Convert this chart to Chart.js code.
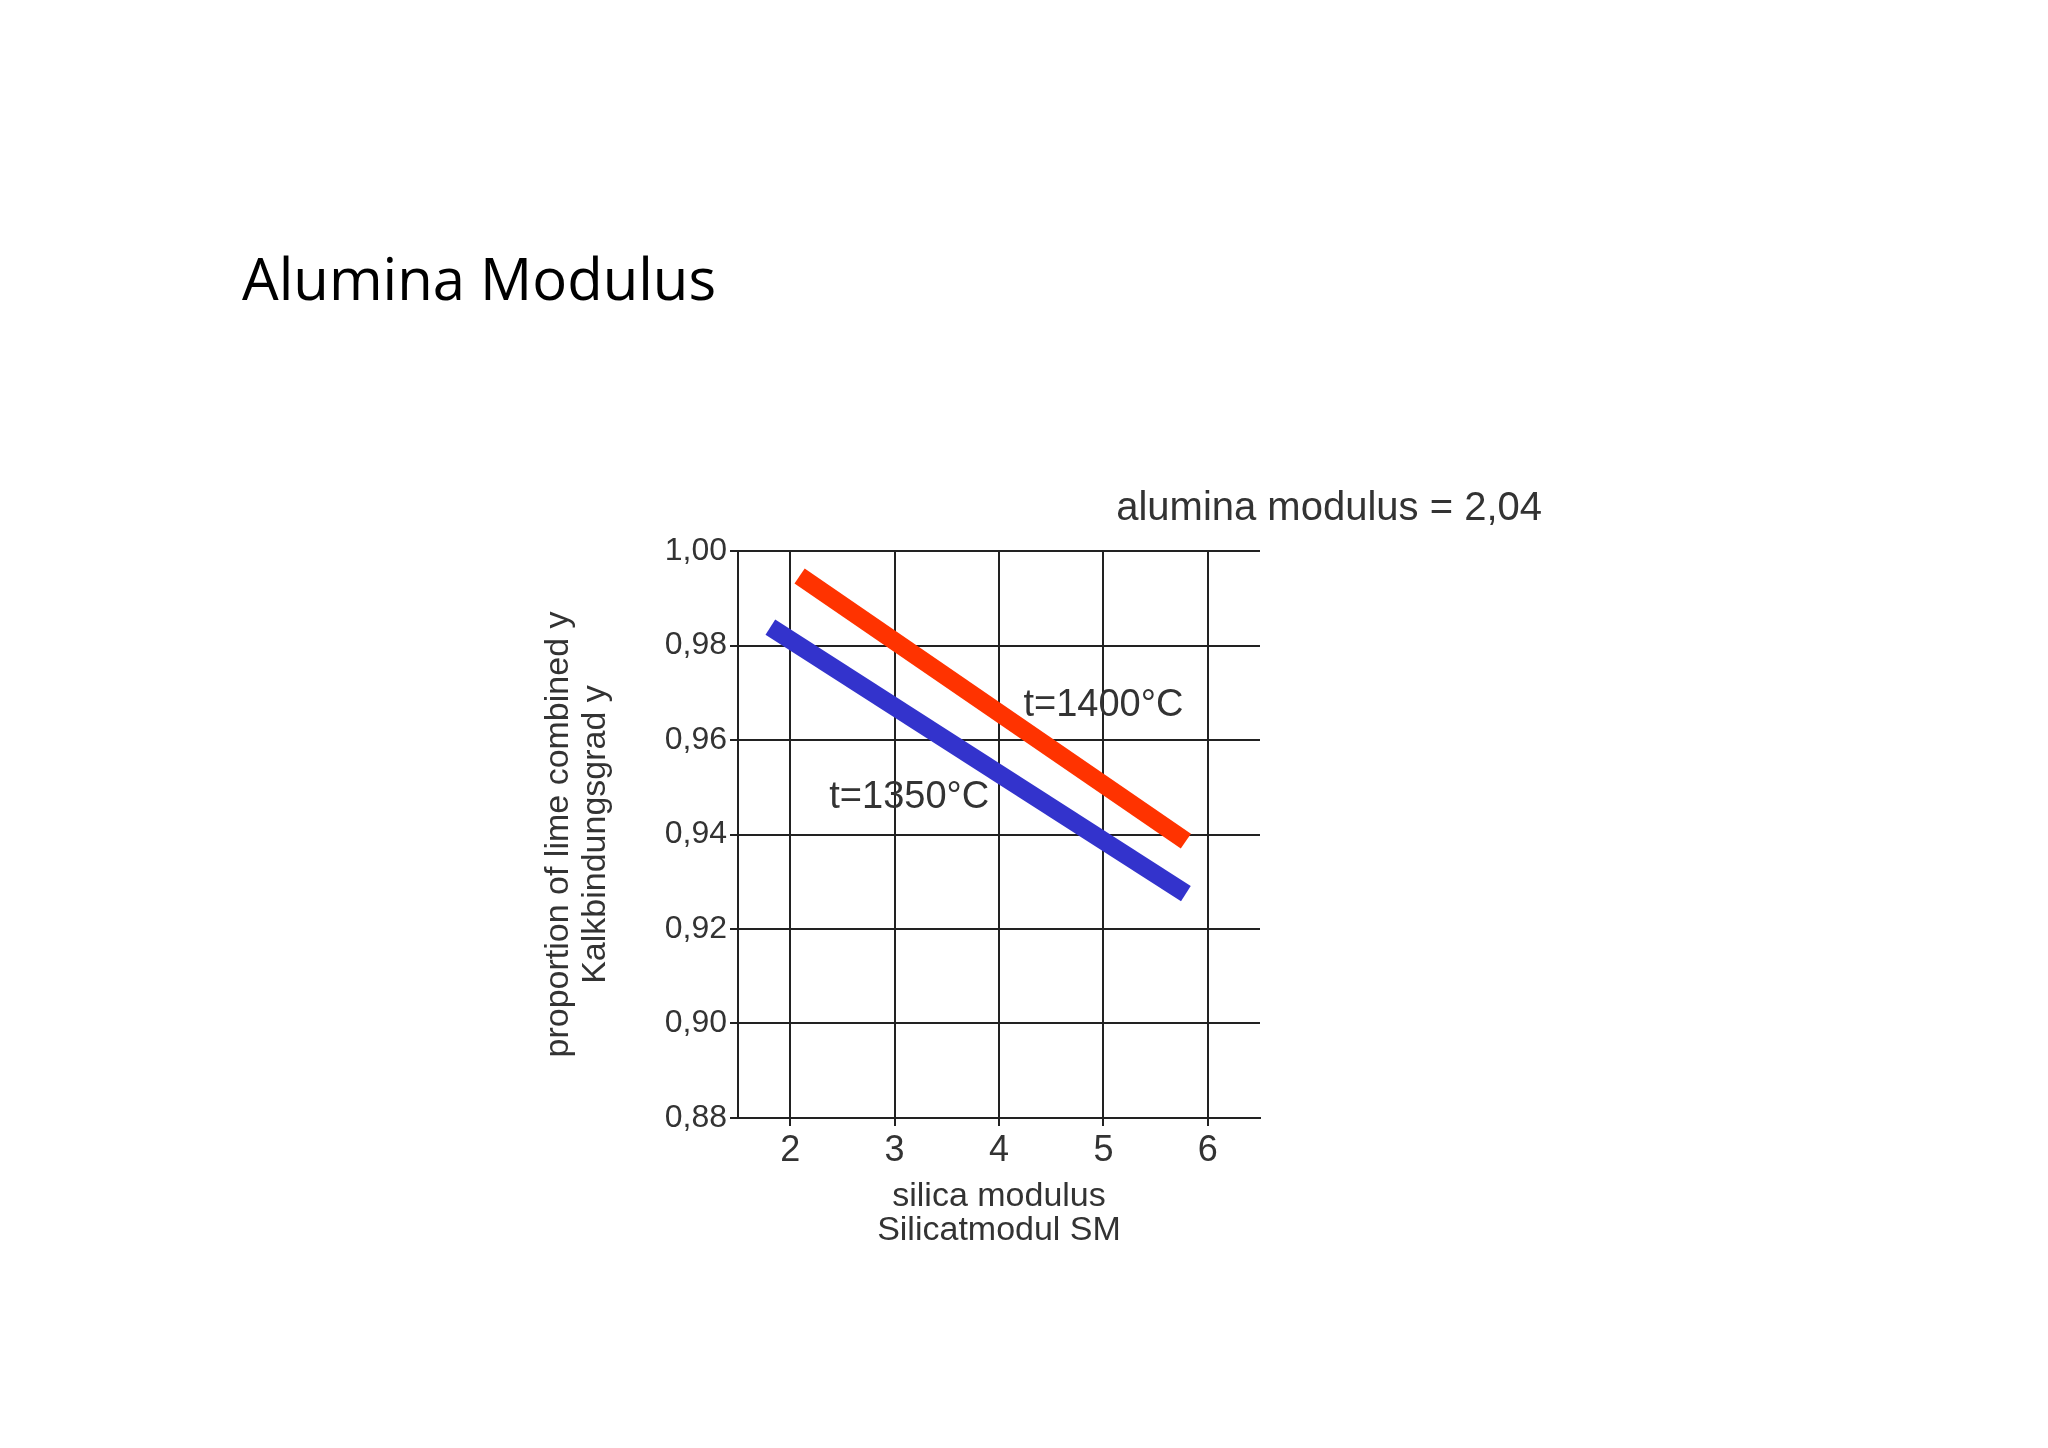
<!DOCTYPE html>
<html><head><meta charset="utf-8">
<script src="https://cdn.jsdelivr.net/npm/chart.js@4/dist/chart.umd.min.js"></script>
<style>
html,body{margin:0;padding:0;background:#fff;width:2048px;height:1448px;overflow:hidden}
#title{position:absolute;left:242px;top:238px;font:58px "Open Sans",sans-serif;color:#000}
#wrap{position:absolute;left:0;top:0;width:2048px;height:1448px}
</style></head><body>
<div id="title">Alumina Modulus</div>
<div id="wrap"><canvas id="c" width="2048" height="1448"></canvas></div>
<script>
const xTicks=[2,3,4,5,6];
const yTicks=[0.88,0.90,0.92,0.94,0.96,0.98,1.00];
const red1400X=[2.09,5.79];
const red1400Y=[0.9947,0.9386];
const blue1350X=[1.81,5.79];
const blue1350Y=[0.9839,0.9275];
const labels=[{text:"t=1400°C",x:5.0,y:0.9672},{text:"t=1350°C",x:3.14,y:0.9478}];
const chartNote="alumina modulus = 2,04";
const pts=(xs,ys)=>xs.map((x,i)=>({x,y:ys[i]}));
const textPlugin={id:'txt',afterDatasetsDraw(ch){
  const c=ch.ctx,xs=ch.scales.x,ys=ch.scales.y;
  c.save();c.fillStyle='#333';c.font='38px "Liberation Sans",sans-serif';c.textAlign='center';c.textBaseline='middle';
  labels.forEach(l=>c.fillText(l.text,xs.getPixelForValue(l.x),ys.getPixelForValue(l.y)));
  c.textAlign='right';c.font='40px "Liberation Sans",sans-serif';
  c.fillText(chartNote,ch.chartArea.right+282,ch.chartArea.top-42);
  c.restore();}};
new Chart(document.getElementById('c'),{
 type:'scatter',
 data:{datasets:[
  {data:pts(red1400X,red1400Y),showLine:true,borderColor:'#ff3300',borderWidth:18,pointRadius:0,borderCapStyle:'butt'},
  {data:pts(blue1350X,blue1350Y),showLine:true,borderColor:'#3333cc',borderWidth:18,pointRadius:0,borderCapStyle:'butt'}
 ]},
 options:{responsive:false,animation:false,devicePixelRatio:1,
  layout:{padding:{left:540,top:551,right:788,bottom:190}},
  plugins:{legend:{display:false},tooltip:{enabled:false}},
  scales:{
   x:{type:'linear',min:1.5,max:6.5,afterBuildTicks:s=>{s.ticks=xTicks.map(v=>({value:v}))},
      afterFit:s=>{s.height=140},
      grid:{color:'#222',lineWidth:2,drawTicks:true,tickLength:8},border:{color:'#222',width:2},
      ticks:{color:'#333',font:{size:36,family:'Liberation Sans'},callback:v=>String(v)},
      title:{display:true,text:['silica modulus','Silicatmodul SM'],color:'#333',font:{size:34,family:'Liberation Sans',lineHeight:1.0},padding:{top:0,bottom:10}}},
   y:{min:0.88,max:1.0,afterBuildTicks:s=>{s.ticks=yTicks.map(v=>({value:v}))},
      afterFit:s=>{s.width=198},
      grid:{color:'#222',lineWidth:2,tickLength:8},border:{color:'#222',width:2},
      ticks:{color:'#333',font:{size:32,family:'Liberation Sans'},callback:v=>v.toFixed(2).replace('.',',')},
      title:{display:true,text:['proportion of lime combined y','Kalkbindungsgrad y'],color:'#333',font:{size:34,family:'Liberation Sans',lineHeight:1.1},padding:0}}
  }},
 plugins:[textPlugin]
});
</script>
</body></html>
